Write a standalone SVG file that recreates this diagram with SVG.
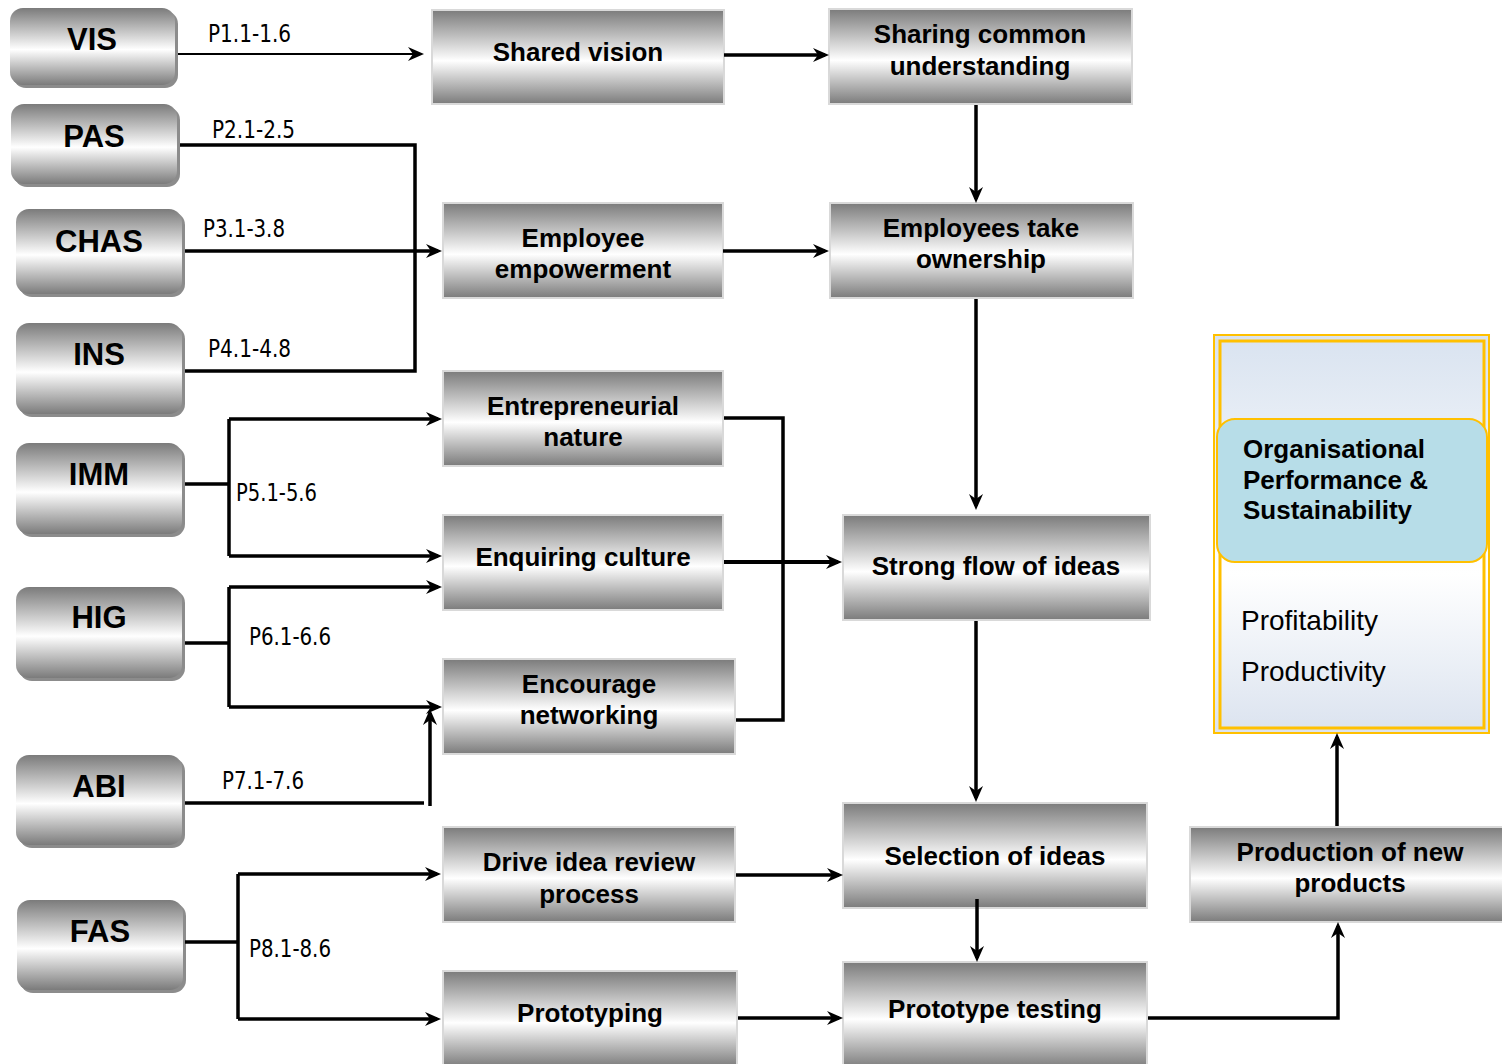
<svg xmlns="http://www.w3.org/2000/svg" width="1502" height="1064" viewBox="0 0 1502 1064">
<style>
.lbl{font-family:"Liberation Sans",Arial,sans-serif;font-weight:bold;font-size:31px;fill:#000;text-anchor:middle}
.bt{font-family:"Liberation Sans",Arial,sans-serif;font-weight:bold;font-size:26px;fill:#000;text-anchor:middle}
.pl{font-family:"Liberation Sans Narrow","DejaVu Sans Condensed","Liberation Sans",sans-serif;font-size:24px;fill:#000}
.node{fill:url(#g);}
.sh{fill:#8c8c8c}
.box{fill:url(#g);stroke:#d9d9d9;stroke-width:2}
.c{fill:none;stroke:#000;stroke-width:3.5}
.a{marker-end:url(#ah)}
.ob{font-family:"Liberation Sans",Arial,sans-serif;font-weight:bold;font-size:26px;fill:#000}
.or{font-family:"Liberation Sans",Arial,sans-serif;font-size:28px;fill:#000}
</style>
<defs>
<linearGradient id="g" x1="0" y1="0" x2="0" y2="1">
<stop offset="0" stop-color="#7b7b7b"/>
<stop offset="0.54" stop-color="#ffffff"/>
<stop offset="1" stop-color="#7b7b7b"/>
</linearGradient>
<linearGradient id="og" x1="0" y1="0" x2="0" y2="1">
<stop offset="0" stop-color="#d9e3f0"/>
<stop offset="0.6" stop-color="#ffffff"/>
<stop offset="1" stop-color="#dbe3ef"/>
</linearGradient>
<marker id="ah" markerUnits="userSpaceOnUse" markerWidth="16" markerHeight="16" viewBox="0 0 16 16" refX="12" refY="8" orient="auto">
<path d="M0,1 L16,8 L0,15 L5,8 z" fill="#000"/>
</marker>
</defs>

<g id="VIS"><rect class="sh" x="13" y="11" width="165" height="77" rx="13"/><rect class="node" x="10" y="8" width="165" height="77" rx="13"/><text class="lbl" x="92" y="50">VIS</text></g>
<g id="PAS"><rect class="sh" x="14" y="107" width="166" height="80" rx="13"/><rect class="node" x="11" y="104" width="166" height="80" rx="13"/><text class="lbl" x="94" y="147">PAS</text></g>
<g id="CHAS"><rect class="sh" x="19" y="212" width="166" height="85" rx="13"/><rect class="node" x="16" y="209" width="166" height="85" rx="13"/><text class="lbl" x="99" y="252">CHAS</text></g>
<g id="INS"><rect class="sh" x="19" y="326" width="166" height="91" rx="13"/><rect class="node" x="16" y="323" width="166" height="91" rx="13"/><text class="lbl" x="99" y="365">INS</text></g>
<g id="IMM"><rect class="sh" x="19" y="446" width="166" height="91" rx="13"/><rect class="node" x="16" y="443" width="166" height="91" rx="13"/><text class="lbl" x="99" y="485">IMM</text></g>
<g id="HIG"><rect class="sh" x="19" y="590" width="166" height="91" rx="13"/><rect class="node" x="16" y="587" width="166" height="91" rx="13"/><text class="lbl" x="99" y="628">HIG</text></g>
<g id="ABI"><rect class="sh" x="19" y="758" width="166" height="90" rx="13"/><rect class="node" x="16" y="755" width="166" height="90" rx="13"/><text class="lbl" x="99" y="797">ABI</text></g>
<g id="FAS"><rect class="sh" x="20" y="903" width="166" height="90" rx="13"/><rect class="node" x="17" y="900" width="166" height="90" rx="13"/><text class="lbl" x="100" y="942">FAS</text></g>

<g id="shared-vision"><rect class="box" x="432" y="10" width="292" height="94"/><text class="bt" x="578" y="61">Shared vision</text></g>
<g id="employee-empowerment"><rect class="box" x="443" y="203" width="280" height="95"/><text class="bt" x="583" y="247">Employee</text><text class="bt" x="583" y="278">empowerment</text></g>
<g id="entrepreneurial-nature"><rect class="box" x="443" y="371" width="280" height="95"/><text class="bt" x="583" y="415">Entrepreneurial</text><text class="bt" x="583" y="446">nature</text></g>
<g id="enquiring-culture"><rect class="box" x="443" y="515" width="280" height="95"/><text class="bt" x="583" y="566">Enquiring culture</text></g>
<g id="encourage-networking"><rect class="box" x="443" y="659" width="292" height="95"/><text class="bt" x="589" y="693">Encourage</text><text class="bt" x="589" y="724">networking</text></g>
<g id="drive-idea-review"><rect class="box" x="443" y="827" width="292" height="95"/><text class="bt" x="589" y="871">Drive idea review</text><text class="bt" x="589" y="903">process</text></g>
<g id="prototyping"><rect class="box" x="443" y="971" width="294" height="96"/><text class="bt" x="590" y="1022">Prototyping</text></g>

<g id="sharing-common"><rect class="box" x="829" y="9" width="303" height="95"/><text class="bt" x="980" y="43">Sharing common</text><text class="bt" x="980" y="75">understanding</text></g>
<g id="employees-take-ownership"><rect class="box" x="830" y="203" width="303" height="95"/><text class="bt" x="981" y="237">Employees take</text><text class="bt" x="981" y="268">ownership</text></g>
<g id="strong-flow"><rect class="box" x="843" y="515" width="307" height="105"/><text class="bt" x="996" y="575">Strong flow of ideas</text></g>
<g id="selection-of-ideas"><rect class="box" x="843" y="803" width="304" height="105"/><text class="bt" x="995" y="865">Selection of ideas</text></g>
<g id="prototype-testing"><rect class="box" x="843" y="962" width="304" height="106"/><text class="bt" x="995" y="1018">Prototype testing</text></g>
<g id="production"><rect class="box" x="1190" y="827" width="320" height="95"/><text class="bt" x="1350" y="861">Production of new</text><text class="bt" x="1350" y="892">products</text></g>

<g id="organisational-performance">
<rect x="1214" y="335" width="275" height="398" fill="url(#og)" stroke="#ffc000" stroke-width="2"/>
<rect x="1220" y="341" width="264" height="387" fill="none" stroke="#ffc000" stroke-width="3"/>
<rect x="1217" y="419" width="270" height="143" rx="18" fill="#b7dde8" stroke="#ffc000" stroke-width="2"/>
<text class="ob" x="1243" y="458">Organisational</text>
<text class="ob" x="1243" y="489">Performance &amp;</text>
<text class="ob" x="1243" y="519">Sustainability</text>
<text class="or" x="1241" y="630">Profitability</text>
<text class="or" x="1241" y="681">Productivity</text>
</g>

<g id="connectors">
<path class="c a" style="stroke-width:2.2" d="M178,54 H420"/>
<path class="c a" d="M724,55 H825"/>
<path class="c" d="M180,145 H415 V371 H185"/>
<path class="c a" d="M185,251 H438"/>
<path class="c a" d="M723,251 H825"/>
<path class="c a" d="M976,105 V199"/>
<path class="c a" d="M976,299 V506"/>
<path class="c" d="M185,484 H229 M229,419 V556"/>
<path class="c a" d="M229,419 H438"/>
<path class="c a" d="M229,556 H438"/>
<path class="c" d="M185,643 H229 M229,587 V707"/>
<path class="c a" d="M229,587 H438"/>
<path class="c a" d="M229,707 H438"/>
<path class="c" d="M185,803 H424"/>
<path class="c a" d="M430,806 V713"/>
<path class="c" d="M724,418 H783 V720 H736"/>
<path class="c a" style="stroke-width:4" d="M724,562 H838"/>
<path class="c a" d="M976,621 V798"/>
<path class="c" d="M185,942 H238 M238,874 V1019"/>
<path class="c a" d="M238,874 H437"/>
<path class="c a" d="M238,1019 H437"/>
<path class="c a" d="M736,875 H839"/>
<path class="c a" d="M977,899 V958"/>
<path class="c a" d="M738,1018 H839"/>
<path class="c a" d="M1148,1018 H1338 V926"/>
<path class="c a" d="M1337,826 V737"/>
<text class="pl" x="208" y="42" textLength="83" lengthAdjust="spacingAndGlyphs">P1.1-1.6</text>
<text class="pl" x="212" y="138" textLength="83" lengthAdjust="spacingAndGlyphs">P2.1-2.5</text>
<text class="pl" x="203" y="237" textLength="82" lengthAdjust="spacingAndGlyphs">P3.1-3.8</text>
<text class="pl" x="208" y="357" textLength="83" lengthAdjust="spacingAndGlyphs">P4.1-4.8</text>
<text class="pl" x="236" y="501" textLength="81" lengthAdjust="spacingAndGlyphs">P5.1-5.6</text>
<text class="pl" x="249" y="645" textLength="82" lengthAdjust="spacingAndGlyphs">P6.1-6.6</text>
<text class="pl" x="222" y="789" textLength="82" lengthAdjust="spacingAndGlyphs">P7.1-7.6</text>
<text class="pl" x="249" y="957" textLength="82" lengthAdjust="spacingAndGlyphs">P8.1-8.6</text>
</g>
</svg>
